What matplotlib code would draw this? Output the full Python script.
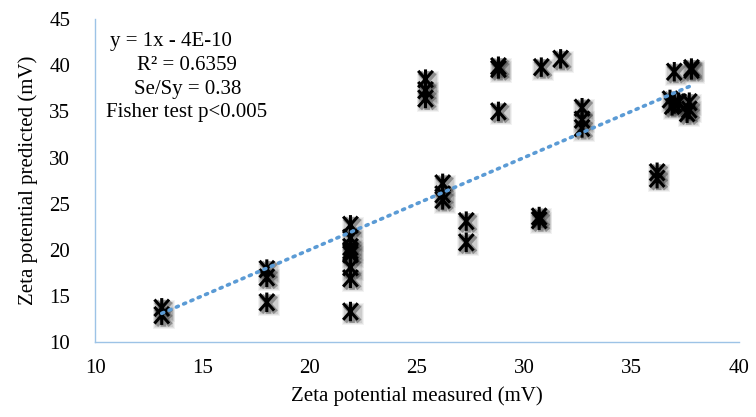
import matplotlib.pyplot as plt
import matplotlib.patheffects as pe
from matplotlib.path import Path
import numpy as np

plt.rcParams['font.family'] = ['Liberation Serif', 'DejaVu Serif']

# measured vs predicted zeta potential (mV)
measured = [13.1, 13.1,
            18.0, 18.0, 18.0,
            21.9, 21.9, 21.9, 21.9, 21.9, 21.9, 21.9, 21.9,
            25.4, 25.4, 25.4,
            26.2, 26.2, 26.2,
            27.3, 27.3,
            28.8, 28.8, 28.8,
            30.7, 30.7,
            30.8, 31.7,
            32.7, 32.7, 32.7,
            36.2, 36.2,
            37.0, 37.8, 37.8,
            36.8, 37.0, 37.2, 36.9,
            37.7, 37.7, 37.6]
predicted = [13.7, 12.9,
             17.9, 17.0, 14.3,
             22.7, 21.3, 20.3, 19.9, 19.5, 18.1, 16.9, 13.3,
             38.5, 37.3, 36.4,
             27.2, 26.0, 25.4,
             23.1, 20.8,
             39.9, 39.6, 35.0,
             23.6, 23.2,
             39.8, 40.7,
             35.4, 34.1, 33.2,
             28.4, 27.7,
             39.3, 39.7, 39.5,
             36.3, 35.8, 36.0, 35.6,
             36.0, 35.2, 34.8]

trend_slope = 1.0
trend_icept = -4e-10
stats_lines = ["y = 1x - 4E-10", "R\u00b2 = 0.6359", "Se/Sy = 0.38", "Fisher test p<0.005"]

# tall asterisk: vertical bar crossed by an X
star = Path([(0, -1), (0, 1), (-0.75, -0.85), (0.75, 0.85), (-0.75, 0.85), (0.75, -0.85)],
            [Path.MOVETO, Path.LINETO, Path.MOVETO, Path.LINETO, Path.MOVETO, Path.LINETO])

fig = plt.figure(figsize=(7.56, 4.17), dpi=100)
ax = fig.add_axes([0.126, 0.18, 0.851, 0.774])

x = np.array(measured)
y = np.array(predicted)

# soft drop shadow behind each marker
for size, alpha in [(260, 0.07), (200, 0.10), (150, 0.13)]:
    ax.scatter(x + 0.1, y - 0.3, s=size, marker='s', color='0.3',
               alpha=alpha, linewidths=0, zorder=2)
ax.plot(x, y, linestyle='none', marker=star, markersize=14,
        markeredgecolor='black', markeredgewidth=2.2, zorder=3,
        path_effects=[pe.SimpleLineShadow(offset=(1.2, -1.2), shadow_color='0.25',
                                          alpha=0.45, linewidth=4),
                      pe.Normal()])

# linear trend line across the measured range
xt = np.array([x.min(), x.max()])
ax.plot(xt, trend_slope * xt + trend_icept, linestyle=(0, (0.6, 1.6)),
        dash_capstyle='round', color='#5B9BD5', linewidth=2.6, zorder=4)

ax.set_xlim(10, 40)
ax.set_ylim(10, 45)
ax.set_xticks(np.arange(10, 41, 5))
ax.set_yticks(np.arange(10, 46, 5))
ax.tick_params(length=0, labelsize=15)
ax.tick_params(axis='x', pad=12)
ax.tick_params(axis='y', pad=18)
for side in ['top', 'right']:
    ax.spines[side].set_visible(False)
for side in ['left', 'bottom']:
    ax.spines[side].set_color('#9DC3E6')
    ax.spines[side].set_linewidth(1.0)

ax.set_xlabel("Zeta potential measured (mV)", fontsize=15, labelpad=6)
ax.set_ylabel("Zeta potential predicted (mV)", fontsize=15, labelpad=8)

# regression statistics block
text_pos = [(0.118, 0.93), (0.142, 0.857), (0.144, 0.783), (0.142, 0.71)]
for line, (tx, ty) in zip(stats_lines, text_pos):
    ax.text(tx, ty, line, transform=ax.transAxes, ha='center', va='center',
            fontsize=15)

fig.savefig("out.png", dpi=100)
